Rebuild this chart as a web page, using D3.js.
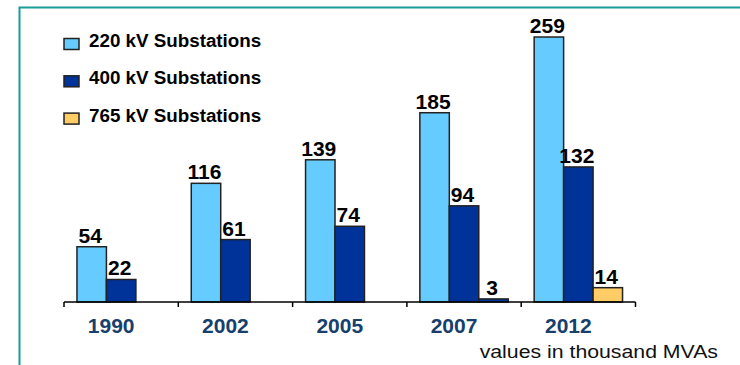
<!DOCTYPE html>
<html>
<head>
<meta charset="utf-8">
<script src="https://cdn.jsdelivr.net/npm/d3@7"></script>
<style>
  html, body { margin: 0; padding: 0; background: #fff; }
  svg { display: block; }
  text { font-family: Arial, "Liberation Sans", sans-serif; }
</style>
</head>
<body>
<svg id="chart" width="740" height="365"></svg>
<script>
// Installed substation capacity by voltage class
const years = ["1990", "2002", "2005", "2007", "2012"];
const series = ["220 kV Substations", "400 kV Substations", "765 kV Substations"];
const kv220 = [54, 116, 139, 185, 259];
const kv400 = [22, 61, 74, 94, 132];
const kv765 = [null, null, null, 3, 14];
const colors = ["#66ccff", "#003399", "#ffcc66"];
const footnote = "values in thousand MVAs";

const values = [kv220, kv400, kv765];

const svg = d3.select("#chart");

// frame along the top and left edges
svg.append("path")
  .attr("d", "M19.5,365 L19.5,7.5 L740,7.5")
  .attr("fill", "none")
  .attr("stroke", "#1a9c98")
  .attr("stroke-width", 2);

const x0 = d3.scaleBand().domain(years).range([64, 635.5]);
const x1 = d3.scaleBand().domain(d3.range(series.length))
  .range([0, x0.bandwidth()]).paddingInner(0).paddingOuter(0.44);
const y = d3.scaleLinear().domain([0, 260]).range([302, 36]);

// bars
const groups = svg.append("g").selectAll("g")
  .data(years)
  .join("g")
  .attr("transform", d => `translate(${x0(d)},0)`);

const cells = groups.selectAll("g.cell")
  .data((yr, i) => values.map((arr, s) => ({ s, v: arr[i], i })).filter(d => d.v != null))
  .join("g").attr("class", "cell");

cells.append("rect")
  .attr("x", d => x1(d.s))
  .attr("y", d => y(d.v))
  .attr("width", x1.bandwidth())
  .attr("height", d => y(0) - y(d.v))
  // the tiny 2007 765 kV sliver is shown in the 400 kV blue
  .attr("fill", d => (d.s === 2 && d.v < 5) ? colors[1] : colors[d.s])
  .attr("stroke", "#222")
  .attr("stroke-width", 1.5);

cells.append("text")
  .attr("x", d => x1(d.s) + x1.bandwidth() / 2 - 1.5)
  .attr("y", d => y(d.v) - 4)
  .attr("text-anchor", "middle")
  .attr("font-size", 21)
  .attr("font-weight", "bold")
  .attr("fill", "#000")
  .text(d => d.v);

// category axis
const axis = d3.axisBottom(x0).tickSize(0).tickFormat("");
const axG = svg.append("g").attr("transform", "translate(0,302)").call(axis);
axG.select(".domain").attr("stroke", "#000").attr("stroke-width", 1.5)
  .attr("d", `M${x0.range()[0]},0H${x0.range()[1]}`);
axG.selectAll(".tick").remove();
const bounds = years.map(d => x0(d)).concat([x0.range()[1]]);
axG.selectAll("line.sep")
  .data(bounds)
  .join("line").attr("class", "sep")
  .attr("x1", d => d).attr("x2", d => d)
  .attr("y1", 0).attr("y2", 5)
  .attr("stroke", "#000").attr("stroke-width", 1.5);

// year labels
svg.append("g").selectAll("text")
  .data(years)
  .join("text")
  .attr("x", d => x0(d) + x0.bandwidth() / 2 - 10)
  .attr("y", 332.5)
  .attr("text-anchor", "middle")
  .attr("font-size", 21)
  .attr("font-weight", "bold")
  .attr("fill", "#17406d")
  .text(d => d);

// legend
const legend = svg.append("g").selectAll("g")
  .data(series)
  .join("g")
  .attr("transform", (d, i) => `translate(64,${38.5 + i * 37.3})`);
legend.append("rect")
  .attr("width", 15).attr("height", 11)
  .attr("fill", (d, i) => colors[i])
  .attr("stroke", "#222").attr("stroke-width", 1.5);
legend.append("text")
  .attr("x", 25)
  .attr("y", 8.5)
  .attr("font-size", 18.8)
  .attr("font-weight", "bold")
  .attr("fill", "#000")
  .text(d => d);

// unit note
svg.append("text")
  .attr("transform", "translate(718,358) scale(1.15,1)")
  .attr("text-anchor", "end")
  .attr("font-size", 18.5)
  .attr("fill", "#111")
  .text(footnote);
</script>
</body>
</html>
